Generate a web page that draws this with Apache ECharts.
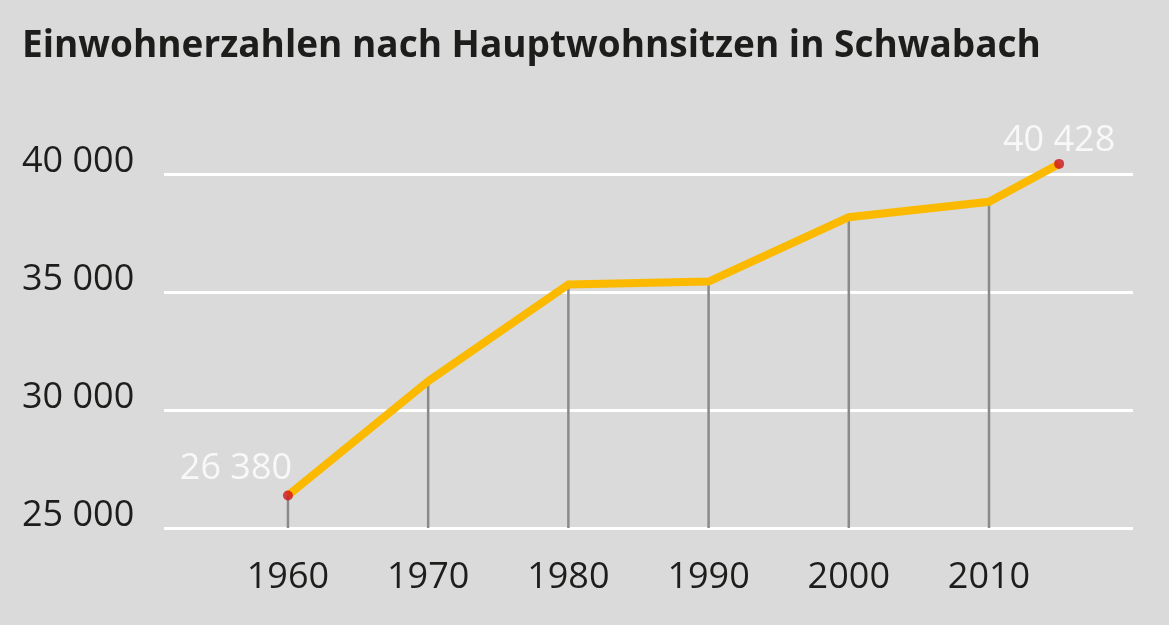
<!DOCTYPE html>
<html>
<head>
<meta charset="utf-8">
<script src="https://cdn.jsdelivr.net/npm/echarts@6/dist/echarts.min.js"></script>
<style>
html,body{margin:0;padding:0;background:#dadada;}
#c{width:1169px;height:625px;}
</style>
</head>
<body>
<div id="c"></div>
<script>
const title = 'Einwohnerzahlen nach Hauptwohnsitzen in Schwabach';
const years = [1960, 1970, 1980, 1990, 2000, 2010, 2015];
const population = [26380, 31220, 35320, 35440, 38170, 38820, 40428];
const xTickLabels = [1960, 1970, 1980, 1990, 2000, 2010];
const yTicks = [25000, 30000, 35000, 40000];
const labelledIdx = [0, 6];

const yMin = 25000, yMax = 40000;
const linePts = years.map((y, i) => [y, population[i]]);
const dropPts = years.slice(0, 6).map((y, i) => [y, population[i]]);
const endPts = labelledIdx.map(i => ({
  value: [years[i], population[i]],
  label: i === 0 ? { offset: [-52, 2] } : { offset: [0, 6] }
}));

function fmtNum(v) {
  return String(v).replace(/\B(?=(\d{3})+(?!\d))/g, ' ');
}

const chart = echarts.init(document.getElementById('c'), null, { renderer: 'canvas' });
chart.setOption({
  backgroundColor: '#dadada',
  animation: false,
  title: {
    text: title,
    left: 17, top: 23,
    textStyle: { fontFamily: 'Open Sans', fontWeight: 'bold', fontSize: 37, color: '#1d1d1b' }
  },
  grid: { left: 164, right: 36, top: 174, bottom: 97 },
  xAxis: {
    type: 'value',
    min: 1951.16, max: 2020.27,
    axisLine: { show: false },
    axisTick: { show: false },
    splitLine: { show: false },
    axisLabel: {
      customValues: xTickLabels,
      formatter: v => String(Math.round(v)),
      fontFamily: 'Open Sans', fontSize: 36, color: '#1d1d1b', margin: 32
    }
  },
  yAxis: {
    type: 'value',
    min: yMin, max: yMax, interval: 5000,
    axisLine: { show: false },
    axisTick: { show: false },
    splitLine: { lineStyle: { color: '#ffffff', width: 3 } },
    axisLabel: {
      formatter: v => fmtNum(v),
      align: 'left', verticalAlign: 'bottom', margin: 142,
      lineHeight: 36,
      padding: [0, 0, -6, 0],
      fontFamily: 'Open Sans', fontSize: 36, color: '#1d1d1b'
    }
  },
  series: [
    {
      type: 'custom',
      z: 1,
      data: dropPts,
      renderItem: function (params, api) {
        const top = api.coord([api.value(0), api.value(1)]);
        const bot = api.coord([api.value(0), yMin]);
        return {
          type: 'line',
          shape: { x1: top[0], y1: top[1], x2: bot[0], y2: bot[1] },
          style: { stroke: '#8a8a8a', lineWidth: 2.5 }
        };
      }
    },
    {
      type: 'line',
      z: 3,
      data: linePts,
      clip: false,
      symbol: 'none',
      lineStyle: { color: '#fbba00', width: 8, join: 'miter' }
    },
    {
      type: 'scatter',
      z: 4,
      data: endPts,
      clip: false,
      symbol: 'circle',
      symbolSize: 10,
      itemStyle: { color: '#d0141a' },
      label: {
        show: true,
        position: 'top',
        distance: 6,
        formatter: p => fmtNum(p.value[1]),
        fontFamily: 'Open Sans', fontSize: 36, color: '#ffffff'
      }
    }
  ]
});
</script>
</body>
</html>
